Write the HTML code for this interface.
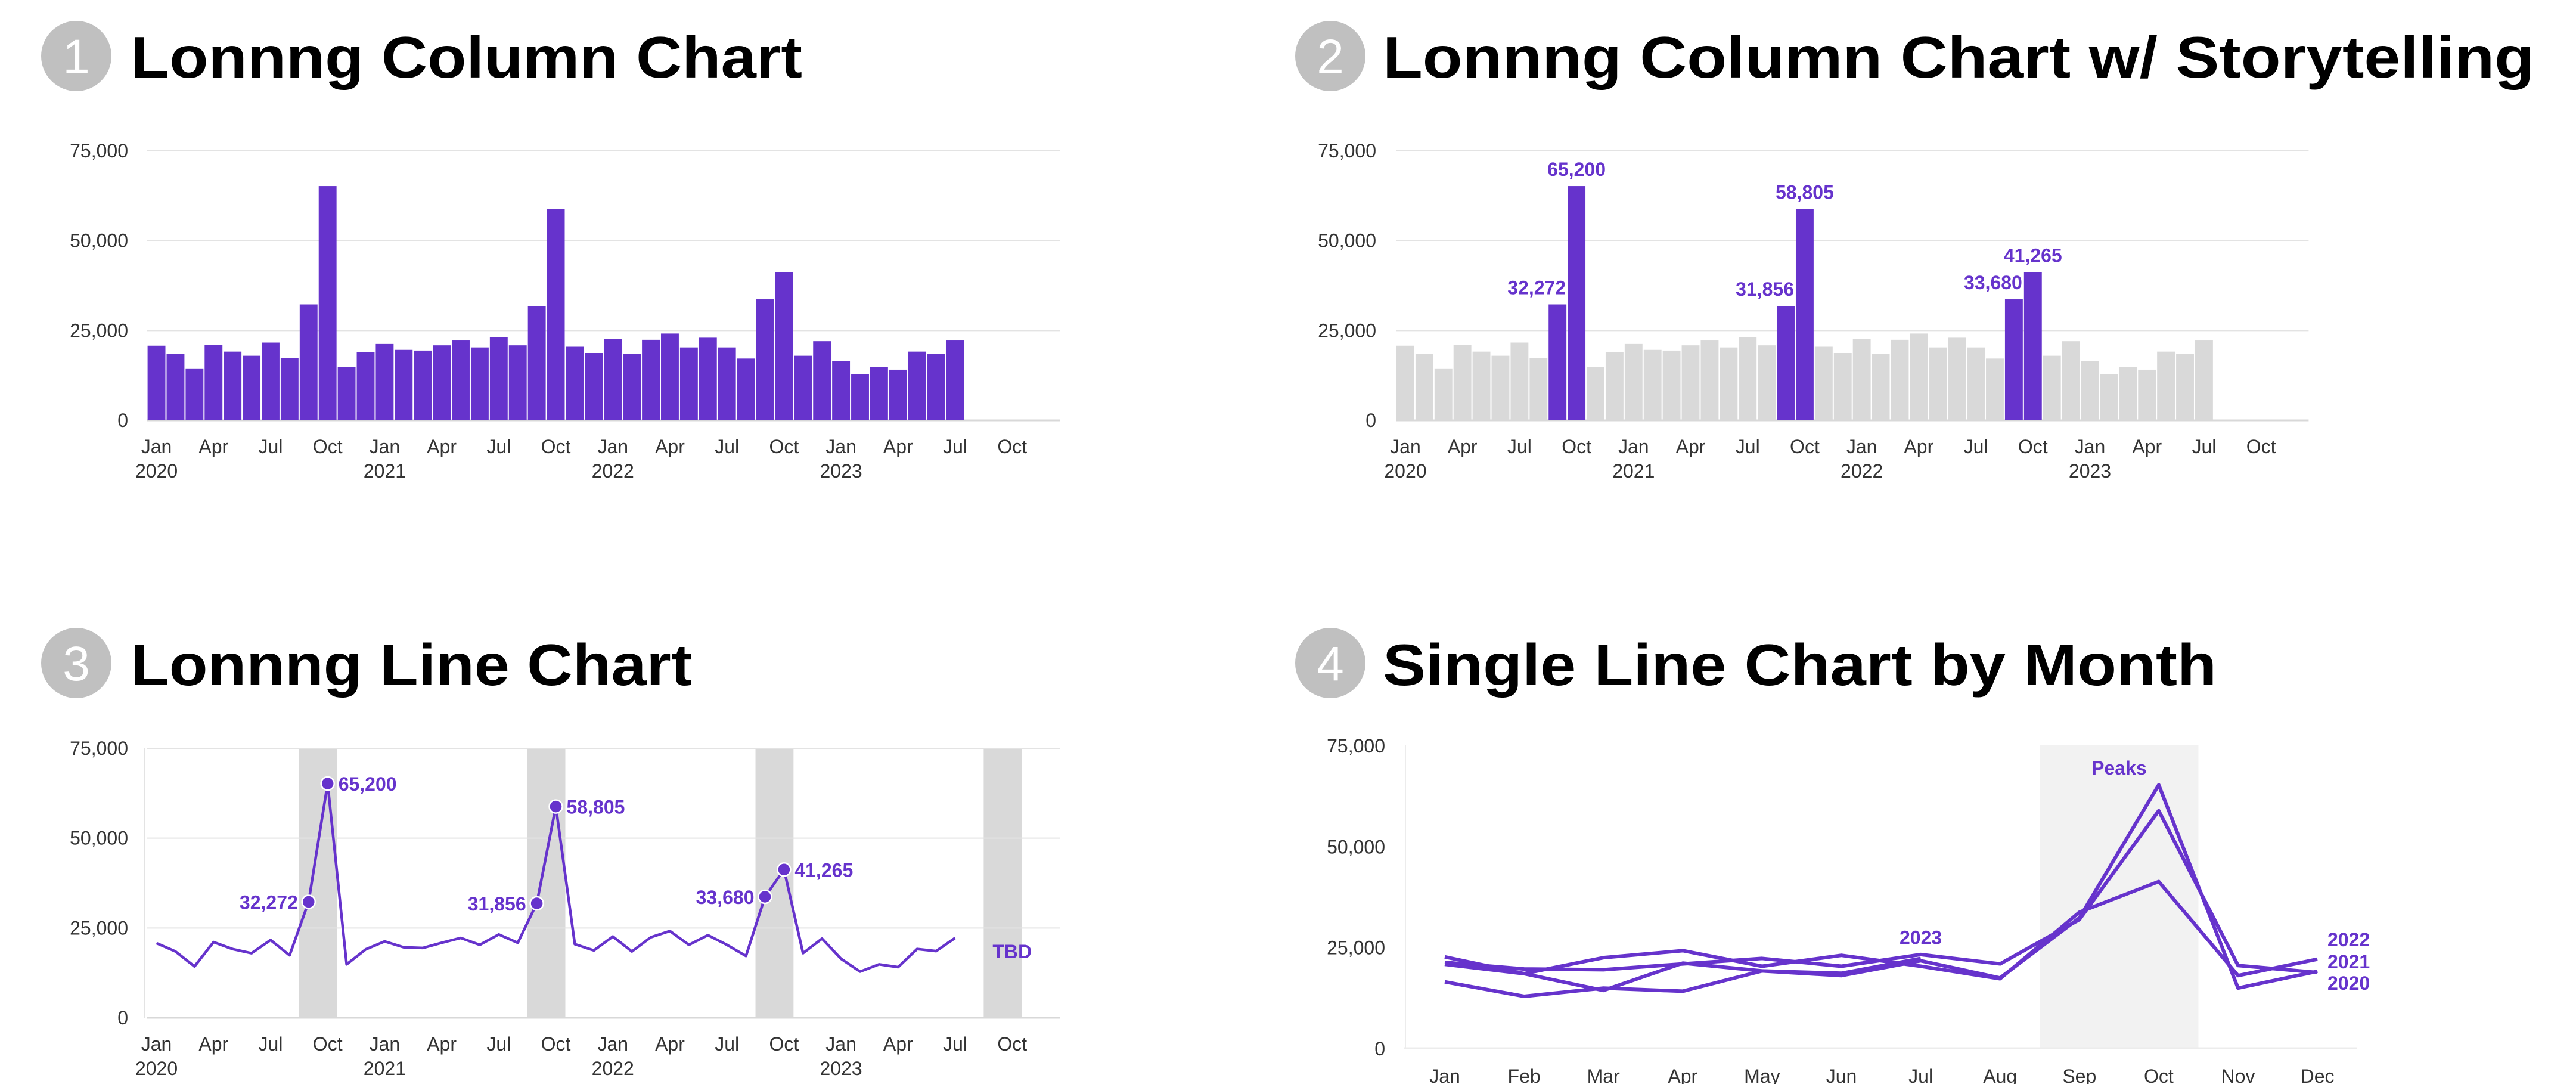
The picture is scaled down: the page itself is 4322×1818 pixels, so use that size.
<!DOCTYPE html>
<html><head><meta charset="utf-8"><style>
html,body{margin:0;padding:0;background:#fff;}
svg{display:block;font-family:"Liberation Sans",sans-serif;}
.t{font-weight:bold;font-size:98px;fill:#000;}
.ax{font-size:32px;fill:#333;}
.lab{font-weight:bold;font-size:32px;fill:#6633cc;}
</style></head><body>
<svg id="s" width="4322" height="1818" viewBox="0 0 4322 1818" xmlns="http://www.w3.org/2000/svg">
<g>
<circle cx="128" cy="94" r="59" fill="#c0c0c0"/><text x="128" y="123" text-anchor="middle" font-size="82" fill="#fff">1</text>
<text class="t" x="219" y="130" textLength="1127" lengthAdjust="spacingAndGlyphs">Lonnng Column Chart</text></g>
<g>
<circle cx="2232" cy="94" r="59" fill="#c0c0c0"/><text x="2232" y="123" text-anchor="middle" font-size="82" fill="#fff">2</text>
<text class="t" x="2320" y="130" textLength="1932" lengthAdjust="spacingAndGlyphs">Lonnng Column Chart w/ Storytelling</text></g>
<g>
<circle cx="128" cy="1112" r="59" fill="#c0c0c0"/><text x="128" y="1141" text-anchor="middle" font-size="82" fill="#fff">3</text>
<text class="t" x="219" y="1149" textLength="942" lengthAdjust="spacingAndGlyphs">Lonnng Line Chart</text></g>
<g>
<circle cx="2232" cy="1112" r="59" fill="#c0c0c0"/><text x="2232" y="1141" text-anchor="middle" font-size="82" fill="#fff">4</text>
<text class="t" x="2320" y="1149" textLength="1399" lengthAdjust="spacingAndGlyphs">Single Line Chart by Month</text></g>
</svg>
<script>
const months = ["Jan","Feb","Mar","Apr","May","Jun","Jul","Aug","Sep","Oct","Nov","Dec"];
const years = ["2020","2021","2022","2023"];
const v2020 = [20780,18460,14300,21070,19140,17980,21650,17400,32272,65200,14880,19040];
const v2021 = [21260,19620,19430,20880,22230,20300,23200,20880,31856,58805,20490,18750];
const v2022 = [22620,18460,22420,24160,20300,23000,20300,17200,33680,41265,17980,22040];
const v2023 = [16430,12850,14880,14110,19140,18560,22230];
const yTicks = [0,25000,50000,75000];
const yTickLabels = ["0","25,000","50,000","75,000"];
const highlightMonths = [8,9];
const series = [v2020,v2021,v2022,v2023];
const all = [].concat(v2020,v2021,v2022,v2023);
const NS="http://www.w3.org/2000/svg";
const S=document.getElementById('s');
const P="#6633cc";
function mk(tag,attrs,parent){const e=document.createElementNS(NS,tag);for(const k in attrs)e.setAttribute(k,attrs[k]);(parent||S).appendChild(e);return e;}
function fmt(v){return v.toLocaleString('en-US');}
const SLOTS=48;
function xs(x0){const w=(1778-246.6)/SLOTS;return {band:i=>x0+i*w,c:i=>x0+(i+0.5)*w,w:w,end:x0+SLOTS*w};}
function ys(y0){return v=>y0-v*(452/75000);}

function axes(g,X,Y,labelRight,vline){
  yTicks.forEach((t,i)=>{
    const l=mk('line',{x1:X.band(0),x2:X.end,y1:Y(t),y2:Y(t),stroke:i===0?'#d8d8d8':'#e3e3e3','stroke-width':i===0?3:2},g);
    
    
    const tx=mk('text',{x:labelRight,y:Y(t)+11,'text-anchor':'end',class:'ax'},g);tx.textContent=yTickLabels[i];
    
    
  });
  if(vline){mk('line',{x1:X.band(0)-4,x2:X.band(0)-4,y1:Y(75000),y2:Y(0),stroke:'#e3e3e3','stroke-width':2},g);}
  for(let i=0;i<SLOTS;i+=3){
    const tx=mk('text',{x:X.c(i),y:Y(0)+55,'text-anchor':'middle',class:'ax'},g);tx.textContent=months[i%12];
    
    
    if(i%12===0){const yt=mk('text',{x:X.c(i),y:Y(0)+96,'text-anchor':'middle',class:'ax'},g);yt.textContent=years[i/12];
      
      }
  }
}
function columns(g,X,Y,story){
  all.forEach((v,i)=>{
    const hl=highlightMonths.includes(i%12);
    const r=mk('rect',{x:X.band(i)+1,y:Y(v),width:X.w-2,height:Y(0)-Y(v),fill:(!story||hl)?P:'#d9d9d9'},g);
    
    
    if(story&&hl){
      const sep=i%12===8;
      const t=mk('text',{x:sep?X.band(i)+X.w-2:X.c(i),y:Y(v)-17,'text-anchor':sep?'end':'middle',class:'lab'},g);t.textContent=fmt(v);
      
      
    }
  });
}
// chart 1
const g1=mk('g',{});
const X1=xs(246.6),Y1=ys(705);axes(g1,X1,Y1,215,false);columns(g1,X1,Y1,false);
// chart 2
const g2=mk('g',{});
const X2=xs(2342),Y2=ys(705);axes(g2,X2,Y2,2309,false);columns(g2,X2,Y2,true);
// chart 3
const g3=mk('g',{});
const X3=xs(246.6),Y3=ys(1707);
for(let y=0;y<4;y++){const b=mk('rect',{x:X3.band(y*12+8),y:Y3(75000),width:X3.w*2,height:Y3(0)-Y3(75000),fill:'#d9d9d9'},g3);
  
  }
axes(g3,X3,Y3,215,true);
const ln=mk('polyline',{points:all.map((v,i)=>X3.c(i)+','+Y3(v)).join(' '),fill:'none',stroke:P,'stroke-width':4.5,'stroke-linejoin':'round'},g3);


all.forEach((v,i)=>{
  if(!highlightMonths.includes(i%12))return;
  const d=mk('circle',{cx:X3.c(i),cy:Y3(v),r:11,fill:P,stroke:'#fff','stroke-width':2.5},g3);
  
  
  const sep=i%12===8;
  const t=mk('text',{x:sep?X3.c(i)-18:X3.c(i)+18,y:Y3(v)+12,'text-anchor':sep?'end':'start',class:'lab'},g3);t.textContent=fmt(v);
  
  
});
const tbd=mk('text',{x:X3.c(45),y:Y3(v2023[6])+34,'text-anchor':'middle',class:'lab'},g3);tbd.textContent='TBD';


// chart 4
const g4=mk('g',{});
const X4=i=>2424+i*133.1,Y4=v=>1758-v*(508/75000);
const sh=mk('rect',{x:X4(7.5),y:Y4(75000),width:X4(9.5)-X4(7.5),height:Y4(0)-Y4(75000),fill:'#f2f2f2'},g4);


yTicks.forEach((t,i)=>{
  const l=mk('line',{x1:2356,x2:3955,y1:Y4(t),y2:Y4(t),stroke:'#ececec','stroke-width':i===0?3:0},g4);
  
  
  const tx=mk('text',{x:2324,y:Y4(t)+12,'text-anchor':'end',class:'ax','font-size':34},g4);tx.textContent=yTickLabels[i];
  
  
});
mk('line',{x1:2358,x2:2358,y1:Y4(75000),y2:Y4(0),stroke:'#ececec','stroke-width':2},g4);
months.forEach((m,i)=>{const tx=mk('text',{x:X4(i),y:1816,'text-anchor':'middle',class:'ax','font-size':34},g4);tx.textContent=m;
  
  });
series.forEach((s,k)=>{
  const p=mk('polyline',{points:s.map((v,i)=>X4(i)+','+Y4(v)).join(' '),fill:'none',stroke:P,'stroke-width':6,'stroke-linejoin':'round'},g4);
  
  
});
const pk=mk('text',{x:(X4(8)+X4(9))/2,y:1299,'text-anchor':'middle',class:'lab','font-size':35},g4);pk.textContent='Peaks';


const l23=mk('text',{x:X4(6),y:Y4(v2023[6])-24,'text-anchor':'middle',class:'lab','font-size':35},g4);l23.textContent='2023';


[["2022",1587],["2021",1624],["2020",1660]].forEach(a=>{const t=mk('text',{x:3905,y:a[1],class:'lab','font-size':35},g4);t.textContent=a[0];
  
  });
</script>
</body></html>
